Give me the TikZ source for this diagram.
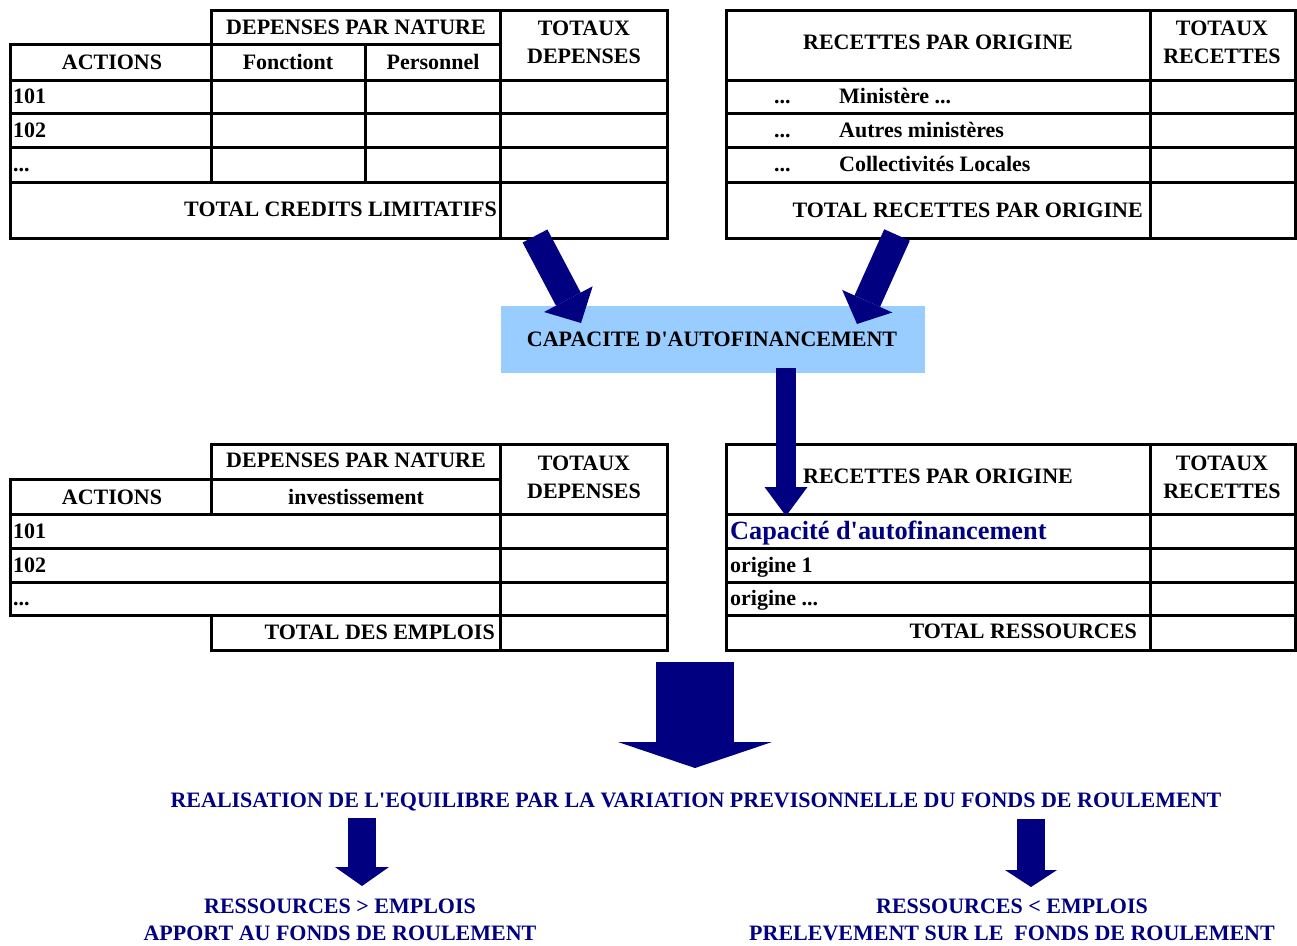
\documentclass[tikz,border=0pt]{standalone}
\usepackage{fontspec}
\setmainfont{Liberation Serif}
\usetikzlibrary{arrows.meta}
\definecolor{navyb}{RGB}{0,0,128}
\definecolor{capbox}{RGB}{153,204,255}
\newcommand\tcell[5]{\node[cellbox,minimum width={#4-#2},minimum height={#5-#3}] (#1) at ({(#2+#4)/2},{(#3+#5)/2}) {};}
\begin{document}
\begin{tikzpicture}[x=1pt,y=-1pt,
  cellbox/.style={draw,line width=3pt,inner sep=0pt},
  txt/.style={font=\fontsize{22}{28}\selectfont\bfseries,inner sep=0pt,text height=14.6pt,text depth=0pt},
  txttwo/.style={font=\fontsize{22}{28}\selectfont\bfseries,inner sep=0pt,align=center},
  captxt/.style={font=\fontsize{26.3}{30}\selectfont\bfseries,inner sep=0pt,text height=17pt,text depth=0pt,text=navyb},
  bluetxt/.style={txt,text=navyb},
  barrow/.style args={#1/#2/#3}{draw=navyb,line width=#1pt,-{Triangle[width=#2pt,length=#3pt,line width=0pt]}}
]
\useasboundingbox (0,0) rectangle (1297,945);

% ---------- top-left table ----------
\tcell{tl-dpn}{211}{10}{500}{44}
\tcell{tl-tot}{500}{10}{667}{80}
\tcell{tl-act}{10}{44}{211}{80}
\tcell{tl-fon}{211}{44}{365}{80}
\tcell{tl-per}{365}{44}{500}{80}
\tcell{tl-a1}{10}{80}{211}{113}\tcell{tl-b1}{211}{80}{365}{113}\tcell{tl-c1}{365}{80}{500}{113}\tcell{tl-d1}{500}{80}{667}{113}
\tcell{tl-a2}{10}{113}{211}{147}\tcell{tl-b2}{211}{113}{365}{147}\tcell{tl-c2}{365}{113}{500}{147}\tcell{tl-d2}{500}{113}{667}{147}
\tcell{tl-a3}{10}{147}{211}{182}\tcell{tl-b3}{211}{147}{365}{182}\tcell{tl-c3}{365}{147}{500}{182}\tcell{tl-d3}{500}{147}{667}{182}
\tcell{tl-totl}{10}{182}{500}{238}
\tcell{tl-totr}{500}{182}{667}{238}

\node[txt] (tl-dpn-t) at (356,27) {DEPENSES PAR NATURE};
\node[txttwo] (tl-tot-t) at (584,42) {TOTAUX\\DEPENSES};
\node[txt] (tl-act-t) at (112,62) {ACTIONS};
\node[txt] (tl-fon-t) at (288,62) {Fonctiont};
\node[txt] (tl-per-t) at (433,62) {Personnel};
\node[txt,anchor=west] (tl-r1) at (13,96.5) {101};
\node[txt,anchor=west] (tl-r2) at (13,130) {102};
\node[txt,anchor=west] (tl-r3) at (13,164.5) {...};
\node[txt,anchor=east] (tl-totl-t) at (497,209) {TOTAL CREDITS LIMITATIFS};

% ---------- top-right table ----------
\tcell{tr-rec}{726}{10}{1150}{80}
\tcell{tr-tot}{1150}{10}{1295}{80}
\tcell{tr-a1}{726}{80}{1150}{113}\tcell{tr-b1}{1150}{80}{1295}{113}
\tcell{tr-a2}{726}{113}{1150}{147}\tcell{tr-b2}{1150}{113}{1295}{147}
\tcell{tr-a3}{726}{147}{1150}{182}\tcell{tr-b3}{1150}{147}{1295}{182}
\tcell{tr-totl}{726}{182}{1150}{238}
\tcell{tr-totr}{1150}{182}{1295}{238}

\node[txt] (tr-rec-t) at (938,42) {RECETTES PAR ORIGINE};
\node[txttwo] (tr-tot-t) at (1222,42) {TOTAUX\\RECETTES};
\node[txt,anchor=west] (tr-d1) at (774,96.5) {...};
\node[txt,anchor=west] (tr-d2) at (774,130) {...};
\node[txt,anchor=west] (tr-d3) at (774,164.5) {...};
\node[txt,anchor=west] (tr-r1) at (839,96.5) {Ministère ...};
\node[txt,anchor=west] (tr-r2) at (839,130) {Autres ministères};
\node[txt,anchor=west] (tr-r3) at (839,164.5) {Collectivités Locales};
\node[txt,anchor=east] (tr-totl-t) at (1143,210) {TOTAL RECETTES PAR ORIGINE};

% ---------- capacite box ----------
\node[fill=capbox,inner sep=0pt,minimum width=424,minimum height=67] (caf) at (713,339.5) {};
\node[txt] (caf-t) at (712,339) {CAPACITE D\textquotesingle AUTOFINANCEMENT};

% ---------- bottom-left table ----------
\tcell{bl-dpn}{211}{444}{500}{479}
\tcell{bl-tot}{500}{444}{667}{514}
\tcell{bl-act}{10}{479}{211}{514}
\tcell{bl-inv}{211}{479}{500}{514}
\tcell{bl-a1}{10}{514}{500}{548}\tcell{bl-b1}{500}{514}{667}{548}
\tcell{bl-a2}{10}{548}{500}{582}\tcell{bl-b2}{500}{548}{667}{582}
\tcell{bl-a3}{10}{582}{500}{615}\tcell{bl-b3}{500}{582}{667}{615}
\tcell{bl-totl}{211}{615}{500}{650}
\tcell{bl-totr}{500}{615}{667}{650}

\node[txt] (bl-dpn-t) at (356,460.5) {DEPENSES PAR NATURE};
\node[txttwo] (bl-tot-t) at (584,477) {TOTAUX\\DEPENSES};
\node[txt] (bl-act-t) at (112,497) {ACTIONS};
\node[txt] (bl-inv-t) at (356,497) {investissement};
\node[txt,anchor=west] (bl-r1) at (13,531) {101};
\node[txt,anchor=west] (bl-r2) at (13,565) {102};
\node[txt,anchor=west] (bl-r3) at (13,598.5) {...};
\node[txt,anchor=east] (bl-totl-t) at (495,632) {TOTAL DES EMPLOIS};

% ---------- bottom-right table ----------
\tcell{br-rec}{726}{444}{1150}{514}
\tcell{br-tot}{1150}{444}{1295}{514}
\tcell{br-a1}{726}{514}{1150}{548}\tcell{br-b1}{1150}{514}{1295}{548}
\tcell{br-a2}{726}{548}{1150}{582}\tcell{br-b2}{1150}{548}{1295}{582}
\tcell{br-a3}{726}{582}{1150}{615}\tcell{br-b3}{1150}{582}{1295}{615}
\tcell{br-a4}{726}{615}{1150}{650}\tcell{br-b4}{1150}{615}{1295}{650}

\node[txt] (br-rec-t) at (938,476) {RECETTES PAR ORIGINE};
\node[txttwo] (br-tot-t) at (1222,477) {TOTAUX\\RECETTES};
\node[captxt,anchor=west] (br-r1) at (730,531) {Capacité d\textquotesingle autofinancement};
\node[txt,anchor=west] (br-r2) at (730,565) {origine 1};
\node[txt,anchor=west] (br-r3) at (730,598.5) {origine ...};
\node[txt,anchor=east] (br-totl-t) at (1137,631.5) {TOTAL RESSOURCES};

% ---------- bottom texts ----------
\node[bluetxt] (real) at (696,800) {REALISATION DE L\textquotesingle EQUILIBRE PAR LA VARIATION PREVISONNELLE DU FONDS DE ROULEMENT};
\node[bluetxt] (plus1) at (340,906) {RESSOURCES > EMPLOIS};
\node[bluetxt] (plus2) at (340,933) {APPORT AU FONDS DE ROULEMENT};
\node[bluetxt] (moins1) at (1012,906) {RESSOURCES < EMPLOIS};
\node[bluetxt] (moins2) at (1012,933) {PRELEVEMENT SUR LE\ \ FONDS DE ROULEMENT};

% ---------- arrows ----------
\coordinate (a1s) at (535,236); \coordinate (a1e) at (581,323);
\coordinate (a2s) at (897,235); \coordinate (a2e) at (857,324);
\coordinate (a3s) at (786,368); \coordinate (a3e) at (786,516);
\coordinate (a4s) at (695,662); \coordinate (a4e) at (695,768);
\coordinate (a5s) at (362,818); \coordinate (a5e) at (362,886);
\coordinate (a6s) at (1031,819); \coordinate (a6e) at (1031,887);

\draw[barrow=28/55/27] (a1s) -- (a1e);
\draw[barrow=28/55/25] (a2s) -- (a2e);
\draw[barrow=20/43/29] (a3s) -- (a3e);
\draw[barrow=78/154/26] (a4s) -- (a4e);
\draw[barrow=28/54/19] (a5s) -- (a5e);
\draw[barrow=28/52/17] (a6s) -- (a6e);
\end{tikzpicture}
\end{document}
